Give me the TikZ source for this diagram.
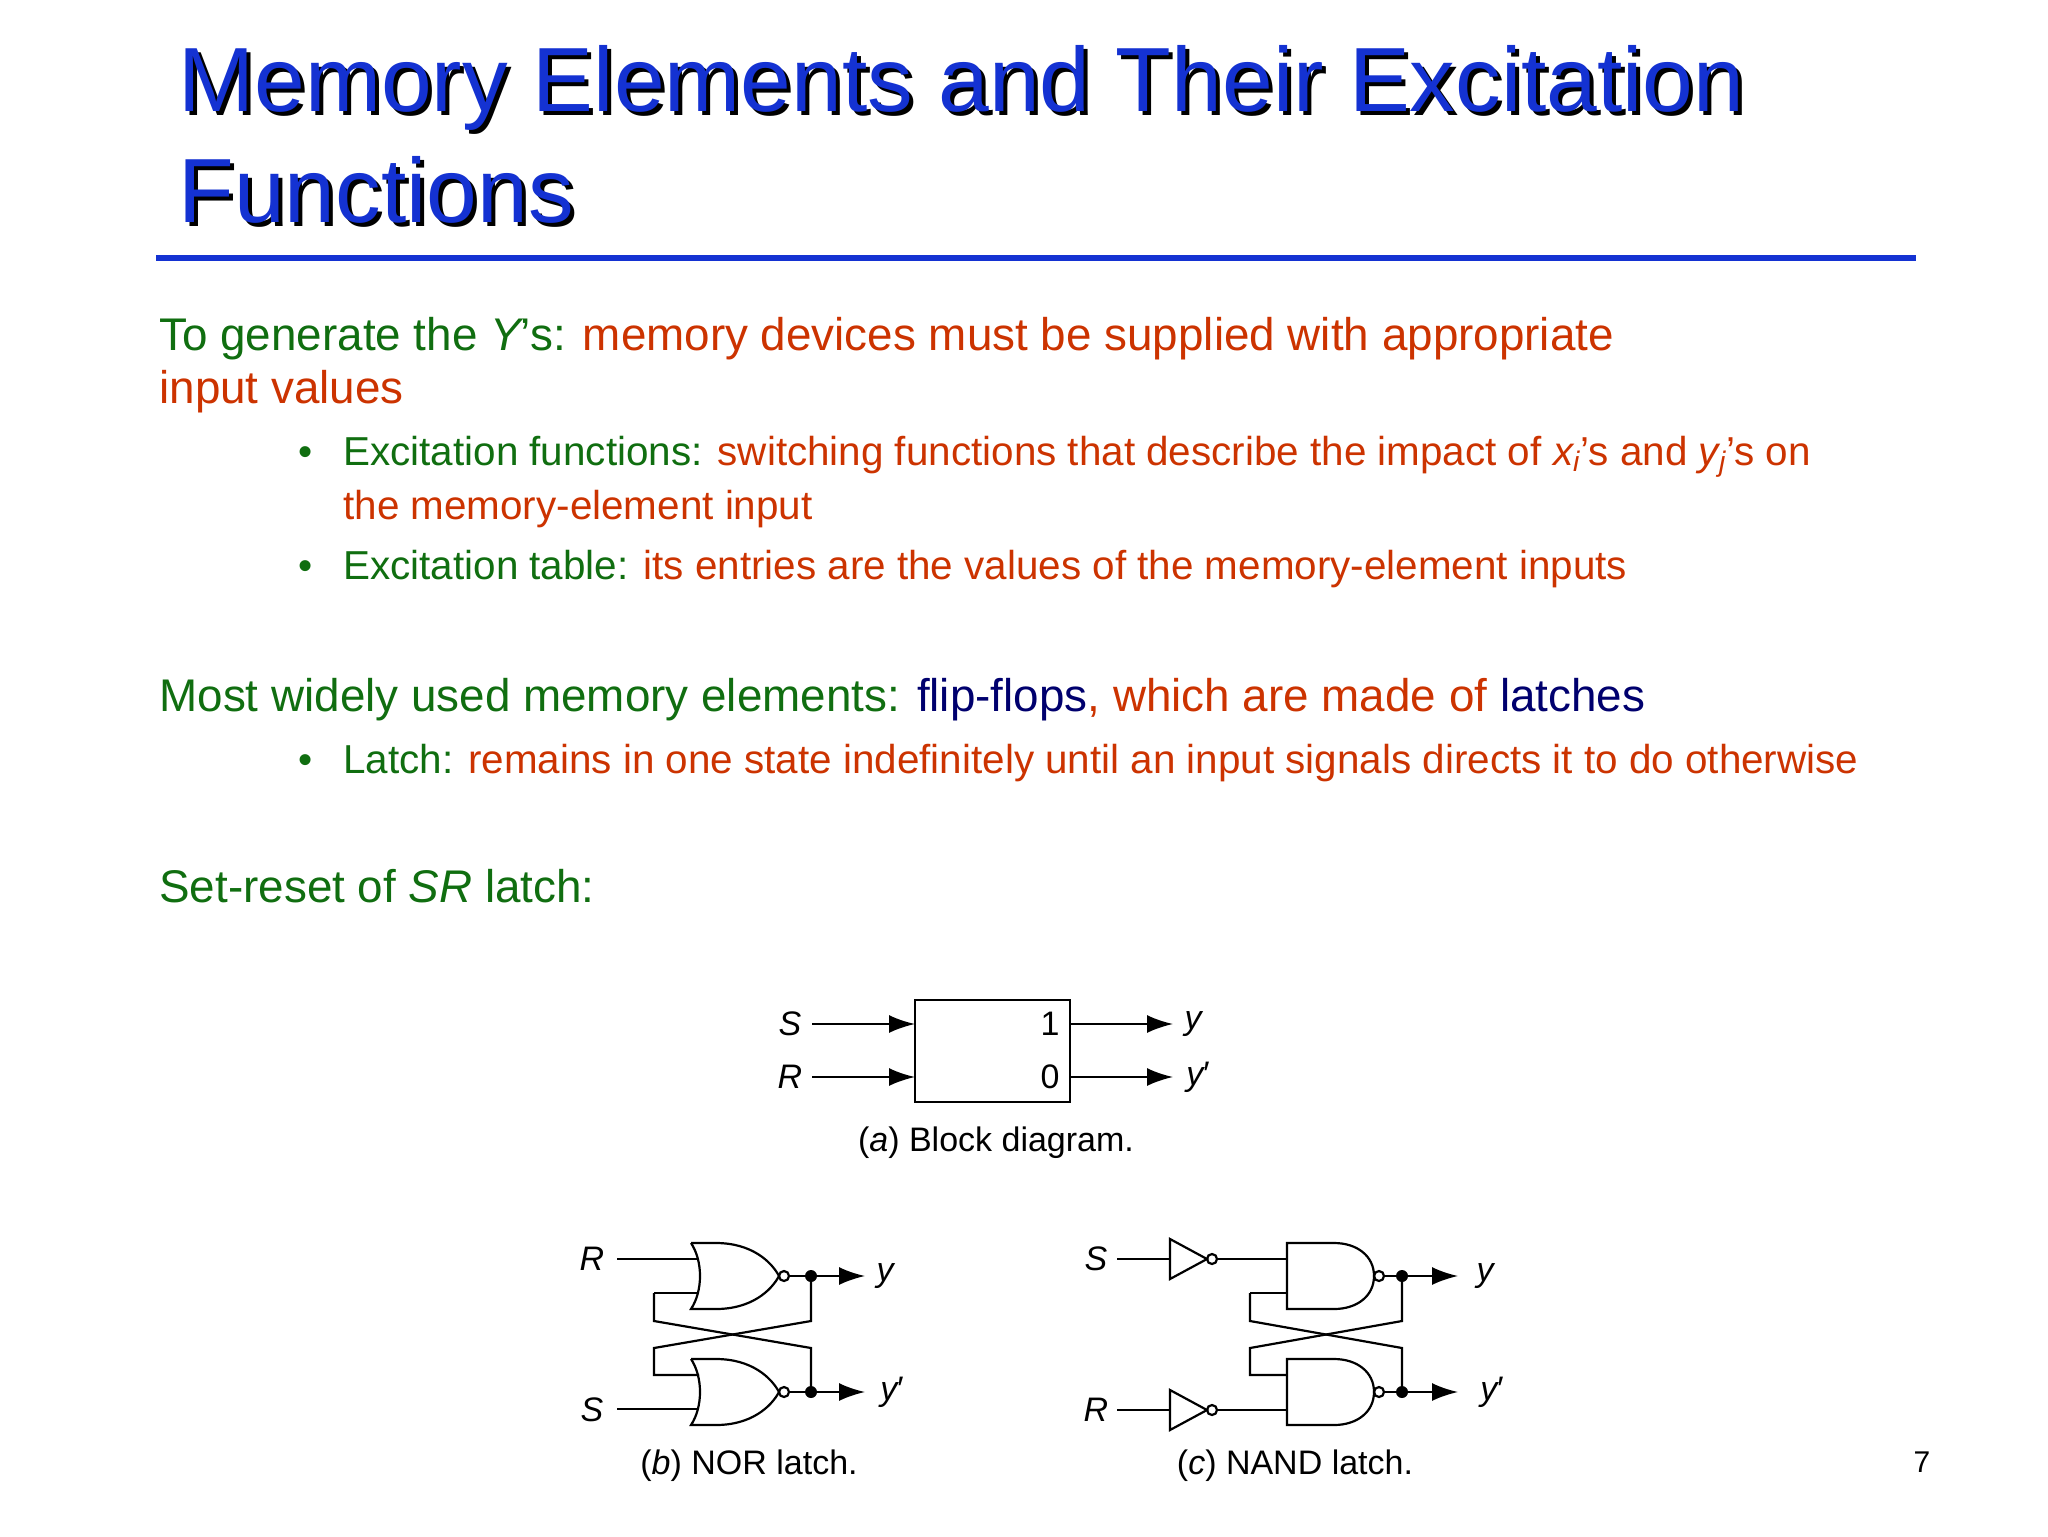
\documentclass[tikz,border=0pt]{standalone}
\usepackage{fontspec}
\setmainfont{Liberation Sans}
\usetikzlibrary{arrows.meta}
\definecolor{tgreen}{RGB}{16,110,16}
\definecolor{tred}{RGB}{204,51,0}
\definecolor{tnavy}{RGB}{0,0,110}
\definecolor{tblue}{RGB}{20,50,210}
\tikzset{
 w/.style={line width=1.1pt},
 arr/.style={w,-{Latex[length=13pt,width=9pt]}},
 lbl/.style={font=\fontsize{17}{20}\selectfont},
 body/.style={anchor=base west,font=\fontsize{22.9}{26}\selectfont,inner sep=0},
 bul/.style={anchor=base west,font=\fontsize{20.2}{24}\selectfont,inner sep=0},
 norg/.pic={\draw[w] (0,-33) -- (25,-33) .. controls (60,-33) and (80,-15) .. (88,0) .. controls (80,15) and (60,33) .. (25,33) -- (0,33) .. controls (12,15) and (12,-15) .. (0,-33);
   \draw[w] (93,0) circle[radius=5];},
 andg/.pic={\draw[w] (0,-33) -- (47,-33) .. controls (70,-33) and (87,-20) .. (87,0) .. controls (87,20) and (70,33) .. (47,33) -- (0,33) -- cycle;
   \draw[w] (92,0) circle[radius=5];},
 invg/.pic={\draw[w] (0,-20) -- (37,0) -- (0,20) -- cycle; \draw[w] (42,0) circle[radius=5];}
}
\begin{document}
\begin{tikzpicture}[x=0.5pt,y=-0.5pt]
\useasboundingbox[fill=white] (0,0) rectangle (2048,1536);
% title
\foreach \dx/\dy/\cl in {4/4/black,0/0/tblue}{
 \node[anchor=base west,inner sep=0,text=\cl,font=\fontsize{45.6}{50}\selectfont] at (178+\dx,112+\dy) {Memory Elements and Their Excitation};
 \node[anchor=base west,inner sep=0,text=\cl,font=\fontsize{45.6}{50}\selectfont] at (178+\dx,222+\dy) {Functions};
}
\draw[tblue,line width=3pt] (156,258) -- (1916,258);
% body
\node[body] (t1) at (159,350) {\color{tgreen}To generate the {\itshape Y}’s: \color{tred}memory devices must be supplied with appropriate};
\node[body] (t2) at (159,403) {\color{tred}input values};
\node[bul] at (298,465) {\color{tgreen}•};
\node[bul] (b1) at (343,465) {\color{tgreen}Excitation functions: \color{tred}switching functions that describe the impact of {\itshape x}\textsubscript{\itshape i}’s and {\itshape y}\textsubscript{\itshape j}’s on};
\node[bul] (b1b) at (343,519) {\color{tred}the memory-element input};
\node[bul] at (298,579) {\color{tgreen}•};
\node[bul] (b2) at (343,579) {\color{tgreen}Excitation table: \color{tred}its entries are the values of the memory-element inputs};
\node[body] (t3) at (159,711) {\color{tgreen}Most widely used memory elements: \color{tnavy}flip-flops\color{tred}, which are made of \color{tnavy}latches};
\node[bul] at (298,773) {\color{tgreen}•};
\node[bul] (b3) at (343,773) {\color{tgreen}Latch: \color{tred}remains in one state indefinitely until an input signals directs it to do otherwise};
\node[body] (t4) at (159,902) {\color{tgreen}Set-reset of {\itshape SR} latch:};
% block diagram
\draw[w] (915,1000) rectangle (1070,1102);
\node[lbl] (bs) at (790,1024) {\itshape S};
\node[lbl] (br) at (790,1077) {\itshape R};
\draw[arr] (812,1024) -- (915,1024);
\draw[arr] (812,1077) -- (915,1077);
\draw[arr] (1070,1024) -- (1173,1024);
\draw[arr] (1070,1077) -- (1173,1077);
\node[lbl] at (1050,1024) {1};
\node[lbl] at (1050,1077) {0};
\node[lbl] (by) at (1193,1024) {\itshape y};
\node[lbl] (by2) at (1198,1077) {{\itshape y}′};
\node[lbl] at (996,1143) {({\itshape a}) Block diagram.};
% NOR latch
\pic at (691,1276) {norg};
\pic at (691,1392) {norg};
\node[lbl] at (592,1259) {\itshape R};
\node[lbl] at (592,1410) {\itshape S};
\draw[w] (617,1259) -- (699,1259);
\draw[w] (617,1409) -- (699,1409);
\draw[w] (654,1293) -- (699,1293);
\draw[w] (811,1276) -- (811,1321) -- (654,1348) -- (654,1375) -- (699,1375);
\draw[w] (654,1293) -- (654,1321) -- (811,1348) -- (811,1392);
\draw[arr] (789,1276) -- (865,1276);
\draw[arr] (789,1392) -- (865,1392);
\fill (811,1276) circle[radius=6];
\fill (811,1392) circle[radius=6];
\node[lbl] at (885,1276) {\itshape y};
\node[lbl] at (892,1392) {{\itshape y}′};
\node[lbl] at (749,1466) {({\itshape b}) NOR latch.};
% NAND latch
\pic at (1170,1259) {invg};
\pic at (1170,1410) {invg};
\pic at (1287,1276) {andg};
\pic at (1287,1392) {andg};
\node[lbl] at (1096,1259) {\itshape S};
\node[lbl] at (1096,1410) {\itshape R};
\draw[w] (1117,1259) -- (1170,1259);
\draw[w] (1117,1410) -- (1170,1410);
\draw[w] (1217,1259) -- (1287,1259);
\draw[w] (1217,1410) -- (1287,1410);
\draw[w] (1250,1293) -- (1287,1293);
\draw[w] (1402,1276) -- (1402,1321) -- (1250,1348) -- (1250,1375) -- (1287,1375);
\draw[w] (1250,1293) -- (1250,1321) -- (1402,1348) -- (1402,1392);
\draw[arr] (1384,1276) -- (1458,1276);
\draw[arr] (1384,1392) -- (1458,1392);
\fill (1402,1276) circle[radius=6];
\fill (1402,1392) circle[radius=6];
\node[lbl] at (1485,1276) {\itshape y};
\node[lbl] at (1492,1392) {{\itshape y}′};
\node[lbl] at (1295,1466) {({\itshape c}) NAND latch.};
\node[font=\fontsize{15}{17}\selectfont] at (1922,1462) {7};
\end{tikzpicture}
\end{document}
